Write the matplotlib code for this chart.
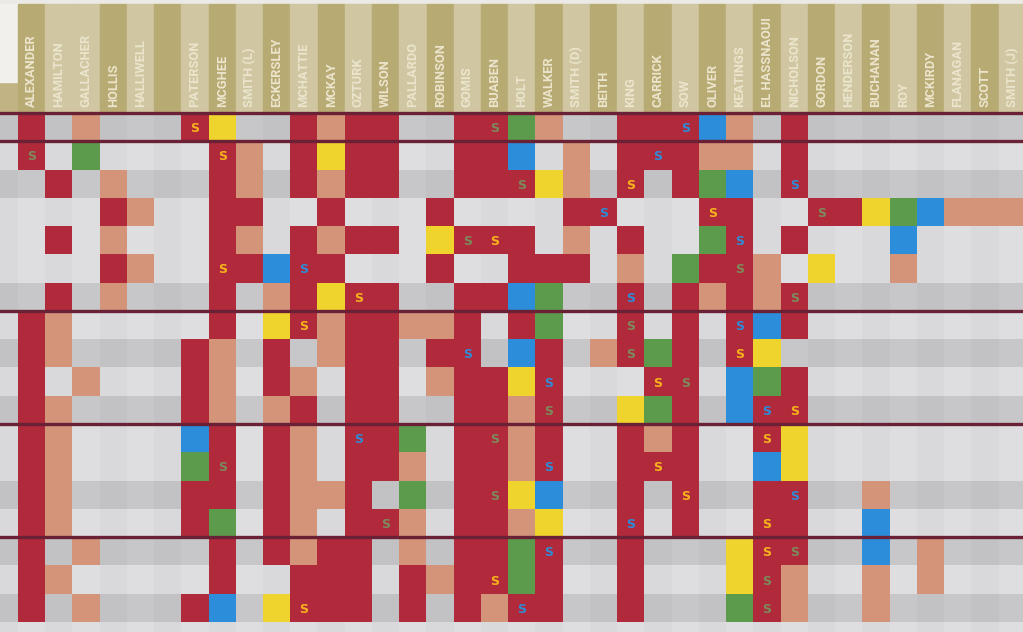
import numpy as np
import matplotlib.pyplot as plt
from matplotlib.patches import Rectangle
from matplotlib.colors import to_rgb

# squad list, one column each ('' = unlabelled column)
players = ['ALEXANDER', 'HAMILTON', 'GALLACHER', 'HOLLIS', 'HALLIWELL', '',
           'PATERSON', 'MCGHEE', 'SMITH (L)', 'ECKERSLEY', 'MCHATTIE', 'MCKAY',
           'OZTURK', 'WILSON', 'PALLARDO', 'ROBINSON', 'GOMIS', 'BUABEN',
           'HOLT', 'WALKER', 'SMITH (D)', 'BEITH', 'KING', 'CARRICK', 'SOW',
           'OLIVER', 'KEATINGS', 'EL HASSNAOUI', 'NICHOLSON', 'GORDON',
           'HENDERSON', 'BUCHANAN', 'ROY', 'MCKIRDY', 'FLANAGAN', 'SCOTT',
           'SMITH (J)']

# one string per match, one char per player
# R started, T bench, Y yellow, G green, B blue, . not involved
# y / b / g = started + 'S' in yellow / blue / green
matches = [
    "R.T...yY..RTRR..RgGT..RRbBT.R",
    "g.G....yT.RYRR..RRB.T.RbRTT.R",
    ".R.T...RT.RTRR..RRgYT.y.RGB.b",
    "...RT..RR..R...R....Rb...yR..gRYGBTTT",
    ".R.T...RT.RTRR.YgyR.T.R..Gb.R...B",
    "...RT..yRBbR...R..RRR.T.GRgT.Y..T",
    ".R.T...R.TRYyR..RRBG..b.RTRTg",
    "RT.....R.YyTRRTTR.RG..g.R.bBR",
    "RT....RT.R.TRR.Rb.BR.TgGR.yY.",
    "R.T...RT.RT.RR.TRRYb...yg.BGR",
    "RT....RT.TR.RR..RRTg..YGR.Bby",
    "RT....BR.RT.bRG.RgTR..RTR..yY",
    "RT....Gg.RT.RRT.RRTb..RyR..BY",
    "RT....RR.RTTR.G.RgYB..R.y..Rb..T",
    "RT....RG.RT.RgT.RRTY..b.R..yR..B",
    "R.T....R.RTRR.T.RRGb..R...Yyg..B.T",
    "RT.....R..RRR.RTRyGR..R...YgT..T.T",
    "R.T...RB.YyRR.R.RTbR..R...GgT..T",
    "",
]
# background shade of each match row: 1 = grey, 0 = light
row_grey = [1, 0, 1, 0, 0, 0, 1, 0, 1, 0, 1, 0, 0, 1, 0, 1, 0, 1, 0]
# header stripe shade per column: 1 = dark tan
head_dark = [1, 0, 0] + [i % 2 for i in range(3, 37)]
# rows after which a section line is drawn
section_lines = [0, 1, 7, 11, 15]

cell_col = {'R': '#b12a3b', 'T': '#d39479', 'Y': '#f0d42e',
            'G': '#5c9b4b', 'B': '#2c8dda'}
s_col = {'y': '#f6b21c', 'b': '#2f8bd6', 'g': '#7c8a5c'}

n_rows = len(matches)
n_cols = len(players)

img = np.zeros((n_rows, n_cols + 1, 3))
for r in range(n_rows):
    row = '.' + matches[r].ljust(n_cols, '.')
    for c in range(n_cols + 1):
        ch = row[c]
        if ch == '.':
            v = (199 if row_grey[r] else 222) - (5 if c % 2 == 0 else 0)
            img[r, c] = (v / 255, v / 255, (v + 3) / 255)
        elif ch in s_col:
            img[r, c] = to_rgb(cell_col['R'])
        else:
            img[r, c] = to_rgb(cell_col[ch])

fig = plt.figure(figsize=(10.23, 6.32), dpi=100, facecolor='#ebeae6')
ax = fig.add_axes([0, 0, 1, 1])
ax.set_xlim(-0.657, 36.897)
ax.set_ylim(18.35, -3.996)
ax.axis('off')

ax.imshow(img, extent=(-1, n_cols, n_rows, 0), interpolation='nearest',
          aspect='auto', zorder=1)

# header stripes
ax.add_patch(Rectangle((-1, -1.1), 1, 1.1, color='#c1b384', zorder=1))
ax.add_patch(Rectangle((-1, -3.85), 1, 2.75, color='#f1f0ec', zorder=1))
for c, name in enumerate(players):
    ax.add_patch(Rectangle((c, -3.85), 1, 3.85,
                           color='#b8aa73' if head_dark[c] else '#d0c7a2', zorder=1))
    ax.text(c + 0.5, -0.22, name, rotation=90, ha='center', va='bottom',
            color='#ece5cd', fontsize=9.3, fontweight='bold',
            family=['Liberation Sans Narrow', 'DejaVu Sans Condensed', 'Roboto', 'DejaVu Sans'],
            fontstretch='condensed', zorder=3)

# scorer marks
for r in range(n_rows):
    for c, ch in enumerate(matches[r]):
        if ch in s_col:
            ax.text(c + 0.5, r + 0.55, 'S', ha='center', va='center',
                    color=s_col[ch], fontsize=9, fontweight='bold', zorder=3)

ax.hlines(section_lines, -1, n_cols, color='#6b2135', lw=2.4, zorder=2)

fig.savefig('out.png', dpi=100, facecolor=fig.get_facecolor())
